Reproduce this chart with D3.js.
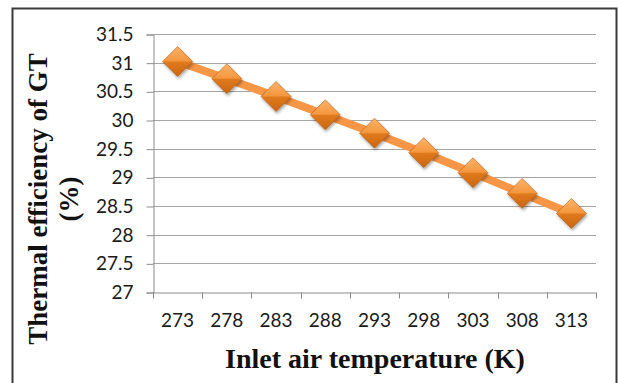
<html>
<body style="margin:0;background:#fff">
<svg class="chart" width="618" height="383"></svg>
</body>
<script src="https://cdn.jsdelivr.net/npm/d3@7"></script>
<script>
  var temps = ["273", "278", "283", "288", "293", "298", "303", "308", "313"];
  var efficiency = [31.02, 30.72, 30.41, 30.09, 29.77, 29.43, 29.08, 28.72, 28.37];
  var yTicks = [27, 27.5, 28, 28.5, 29, 29.5, 30, 30.5, 31, 31.5];

  var data = temps.map(function(t, i) { return {temp: t, value: efficiency[i]}; });

  var plotLeft = 153, plotRight = 596, plotTop = 34, plotBottom = 292;
  var chart = d3.select(".chart");

  var defs = chart.append("defs");
  var grad = defs.append("linearGradient").attr("id", "dia")
    .attr("x1", 0).attr("y1", 0).attr("x2", 0).attr("y2", 1);
  grad.append("stop").attr("offset", "0%").attr("stop-color", "#fbb36a");
  grad.append("stop").attr("offset", "48%").attr("stop-color", "#f4973f");
  grad.append("stop").attr("offset", "52%").attr("stop-color", "#e07a1e");
  grad.append("stop").attr("offset", "100%").attr("stop-color", "#c9650f");
  var shadow = defs.append("filter").attr("id", "sh").attr("x", "-50%").attr("y", "-50%")
    .attr("width", "200%").attr("height", "200%");
  shadow.append("feDropShadow").attr("dx", 1).attr("dy", 2).attr("stdDeviation", 1.5)
    .attr("flood-color", "#000").attr("flood-opacity", 0.35);

  // outer frame
  chart.append("rect")
    .attr("x", 12.5).attr("y", 8.5).attr("width", 604).attr("height", 380)
    .attr("fill", "none").attr("stroke", "#3a3a3a").attr("stroke-width", 2);

  var x = d3.scaleBand().domain(temps).range([plotLeft, plotRight]);
  var y = d3.scaleLinear().domain([27, 31.5]).range([plotBottom, plotTop]);

  // gridlines
  chart.append("g").selectAll("line")
    .data(yTicks.slice(1))
    .enter().append("line")
      .attr("x1", plotLeft).attr("x2", plotRight)
      .attr("y1", function(d) { return Math.round(y(d)) + 0.5; })
      .attr("y2", function(d) { return Math.round(y(d)) + 0.5; })
      .attr("stroke", "#a6a6a6").attr("stroke-width", 1);

  var yAxis = d3.axisLeft(y).tickValues(yTicks).tickSize(7).tickPadding(13)
    .tickFormat(function(d) { return d; });
  var gy = chart.append("g").attr("transform", "translate(" + (plotLeft + 0.5) + ",0.5)").call(yAxis);

  var xAxis = d3.axisBottom(x).tickSize(0).tickPadding(21);
  var gx = chart.append("g").attr("transform", "translate(0," + (plotBottom + 0.5) + ")").call(xAxis);
  gx.selectAll(".tick-mark")
    .data(temps.concat(["end"]))
    .enter().append("line")
      .attr("x1", function(d, i) { return Math.round(plotLeft + i * x.step()) + 0.5; })
      .attr("x2", function(d, i) { return Math.round(plotLeft + i * x.step()) + 0.5; })
      .attr("y1", 0).attr("y2", 6)
      .attr("stroke", "#8c8c8c");

  [gx, gy].forEach(function(g) {
    g.select(".domain").attr("stroke", "#8c8c8c");
    g.selectAll(".tick line").attr("stroke", "#8c8c8c");
    g.selectAll("text").attr("font-family", "Lato, 'Open Sans', sans-serif")
      .attr("font-size", 19).attr("fill", "#1a1a1a");
  });

  var line = d3.line()
    .x(function(d) { return x(d.temp) + x.bandwidth() / 2; })
    .y(function(d) { return y(d.value); });

  chart.append("path").datum(data)
    .attr("d", line)
    .attr("fill", "none").attr("stroke", "#f79646").attr("stroke-width", 8)
    .attr("stroke-linejoin", "round");

  var r = 15;
  chart.append("g").selectAll("path")
    .data(data)
    .enter().append("path")
      .attr("transform", function(d) { return "translate(" + (x(d.temp) + x.bandwidth() / 2) + "," + y(d.value) + ")"; })
      .attr("d", "M0," + (-r) + "L" + r + ",0L0," + r + "L" + (-r) + ",0Z")
      .attr("fill", "url(#dia)").attr("stroke", "#b75e12").attr("stroke-width", 0.6)
      .attr("filter", "url(#sh)");

  chart.append("text")
    .attr("x", 375).attr("y", 368)
    .attr("text-anchor", "middle")
    .attr("font-family", "'Liberation Serif', 'Times New Roman', serif")
    .attr("font-weight", "bold").attr("font-size", 28).attr("fill", "#111")
    .text("Inlet air temperature (K)");

  var yt = chart.append("text")
    .attr("transform", "translate(47,199) rotate(-90)")
    .attr("text-anchor", "middle")
    .attr("font-family", "'Liberation Serif', 'Times New Roman', serif")
    .attr("font-weight", "bold").attr("font-size", 27).attr("fill", "#111");
  yt.append("tspan").attr("x", 0).attr("dy", 0).text("Thermal efficiency of GT");
  yt.append("tspan").attr("x", 0).attr("dy", 31).text("(%)");
</script>
</html>
